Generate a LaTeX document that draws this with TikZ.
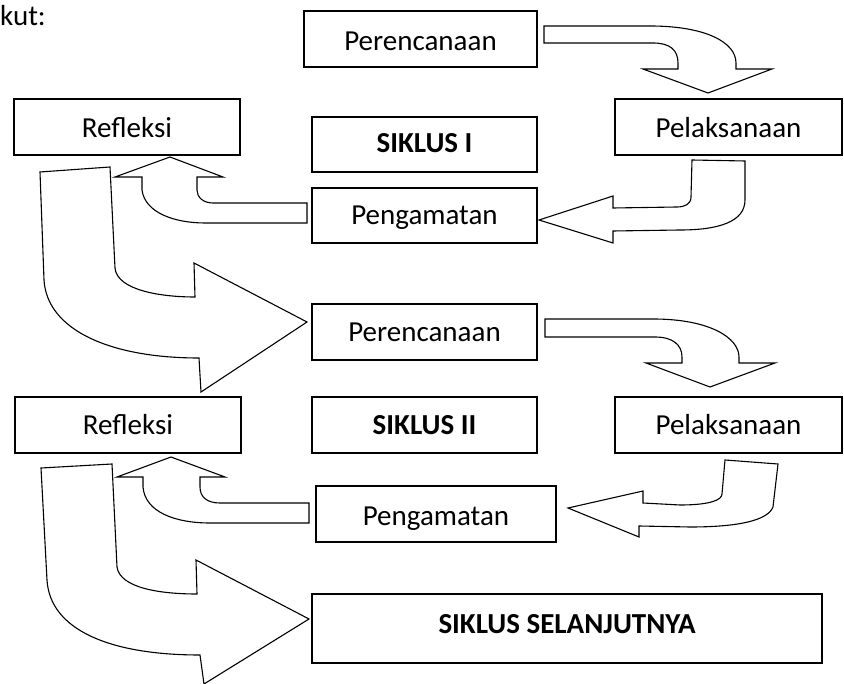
\documentclass[tikz,border=0pt]{standalone}
\usepackage{fontspec}
\setmainfont{Carlito}
\begin{document}
\begin{tikzpicture}[x=1pt,y=-1pt,
  box/.style={draw, line width=1.5pt, inner sep=0pt, minimum height=56pt, text depth=4pt, font=\fontsize{29}{34}\selectfont},
  boldbox/.style={box, font=\fontsize{29}{34}\selectfont\bfseries},
  blockarrow/.style={draw, fill=white, line width=1.1pt, line join=miter}]
\useasboundingbox (0,0) rectangle (844,684);
\node[anchor=base west, inner sep=0pt, font=\fontsize{29}{34}\selectfont] (intro) at (0,26) {kut:};
% cycle I
\node[box, minimum width=233pt, text height=28pt] (per1) at (420.5,39) {Perencanaan};
\node[box, minimum width=226pt, text height=26pt] (ref1) at (127,127) {Refleksi};
\node[boldbox, minimum width=225pt, minimum height=55pt, text height=21pt] (sik1) at (424.5,144.5) {SIKLUS I};
\node[box, minimum width=227pt, text height=26pt] (pel1) at (728.5,127) {Pelaksanaan};
\node[box, minimum width=225pt, minimum height=55pt, text height=23pt] (pen1) at (424.5,215.5) {Pengamatan};
% cycle II
\node[box, minimum width=225pt, text height=24pt] (per2) at (424.5,332) {Perencanaan};
\node[box, minimum width=226pt, text height=24pt] (ref2) at (128,425) {Refleksi};
\node[boldbox, minimum width=225pt, text height=24pt] (sik2) at (424.5,425) {SIKLUS II};
\node[box, minimum width=227pt, text height=24pt] (pel2) at (728.5,425) {Pelaksanaan};
\node[box, minimum width=240pt, text height=27pt] (pen2) at (436,514) {Pengamatan};
\node[boldbox, minimum width=510pt, minimum height=69pt, text height=13pt] (next) at (567,628.5) {SIKLUS SELANJUTNYA};
% arrows cycle I
\draw[blockarrow] (544,26) -- (650,26) .. controls (705,26) and (736,42) .. (736,63) -- (736,69) -- (772,69) -- (708,93) -- (643,69) -- (678,69) -- (678,63) .. controls (678,50) and (670,43) .. (653,43) -- (544,43) -- cycle;
\draw[blockarrow] (692,160) -- (745,161) -- (745,200) .. controls (745,222) and (718,230) .. (680,230) -- (613,231) -- (613,243) -- (539,220) -- (613,196) -- (613,208) -- (677,207) .. controls (685,207) and (691,204) .. (691,197) -- cycle;
\draw[blockarrow] (307,203) -- (213,203) .. controls (203,203) and (197,197) .. (197,190) -- (197,177) -- (223,177) -- (170,157) -- (115,177) -- (142,177) -- (142,190) .. controls (145,213) and (175,223) .. (205,223) -- (307,223) -- cycle;
\draw[blockarrow] (40,172) -- (110,167) -- (115,268) .. controls (117,290) and (160,297) .. (195,297) -- (194,263) -- (307,322) -- (201,392) -- (199,358) .. controls (110,358) and (47,330) .. (44,280) -- cycle;
% arrows cycle II
\draw[blockarrow] (545,319) -- (653,319) .. controls (710,319) and (739,338) .. (739,357) -- (739,363) -- (775,363) -- (710,387) -- (646,363) -- (682,363) -- (682,357) .. controls (682,345) and (673,337) .. (655,337) -- (545,337) -- cycle;
\draw[blockarrow] (725,460) -- (778,464) -- (773,507) .. controls (768,520) and (740,527) .. (690,527) -- (639,526) -- (639,537) -- (568,508) -- (643,491) -- (643,503) -- (680,505) .. controls (710,505) and (722,500) .. (722,494) -- cycle;
\draw[blockarrow] (309,503) -- (220,503) .. controls (207,503) and (200,497) .. (200,487) -- (200,477) -- (225,477) -- (171,457) -- (117,477) -- (143,477) -- (143,487) .. controls (145,512) and (175,523) .. (210,523) -- (309,523) -- cycle;
\draw[blockarrow] (41,468) -- (112,464) -- (117,567) .. controls (120,588) and (160,594) .. (197,594) -- (196,560) -- (309,619) -- (204,684) -- (200,655) .. controls (110,655) and (50,630) .. (47,580) -- cycle;
\end{tikzpicture}
\end{document}
